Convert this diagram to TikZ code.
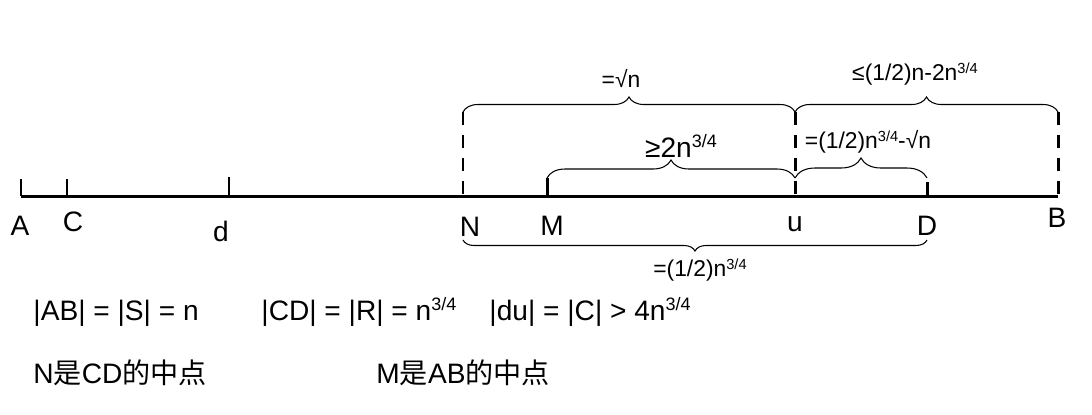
\documentclass[tikz,border=0pt]{standalone}
\usepackage{fontspec}
\setmainfont{Liberation Sans}
\newfontfamily\cjk{Noto Sans CJK SC}
\usetikzlibrary{decorations.pathreplacing}
\newcommand{\pw}[1]{\raisebox{0.33em}{\scalebox{0.64}{#1}}}
\begin{document}
\begin{tikzpicture}[x=0.02cm,y=-0.02cm,line width=1.7pt]
	\tikzstyle{big}=[font=\fontsize{16}{19}\selectfont,inner sep=0pt]
	\tikzstyle{small}=[font=\fontsize{13}{15}\selectfont,inner sep=0pt]
	\tikzstyle{guide}=[dash pattern=on 7.5pt off 5.5pt]
	\tikzstyle{brc}=[decorate,line width=0.6pt]
	\useasboundingbox (0,0) rectangle (1092,414);
	\coordinate (A) at (21,196);
	\coordinate (C) at (67,196);
	\coordinate (d) at (229,196);
	\coordinate (N) at (463,196);
	\coordinate (M) at (547,196);
	\coordinate (u) at (795,196);
	\coordinate (D) at (927,196);
	\coordinate (B) at (1058,196);
	\coordinate (Ntop) at (463,112);
	\coordinate (utop) at (795,112);
	\coordinate (Btop) at (1058,112);
	\coordinate (Mtop) at (547,178);
	\coordinate (umid) at (795,178);
	\coordinate (Dtop) at (927,178);
	\coordinate (Nbot) at (463,240);
	\coordinate (Dbot) at (927,240);
	\draw (A) -- (B);
	\draw (A) -- ++(0,-17);
	\draw (C) -- ++(0,-17);
	\draw (d) -- ++(0,-19);
	\draw (M) -- (Mtop);
	\draw (D) -- ++(0,-14);
	\draw[guide] (Ntop) -- (N);
	\draw[guide] (utop) -- (u);
	\draw[guide] (Btop) -- (B);
	\node[big] (lblA) at (20,226) {A};
	\node[big] (lblC) at (73,222) {C};
	\node[big] (lbld) at (221,231) {d};
	\node[big] (lblN) at (470,227) {N};
	\node[big] (lblM) at (552,226) {M};
	\node[big] (lblu) at (795,224) {u};
	\node[big] (lblD) at (927,226) {D};
	\node[big] (lblB) at (1057,218) {B};
	\draw[brc,decoration={brace,amplitude=0.3cm}] (Ntop) -- (utop);
	\draw[brc,decoration={brace,amplitude=0.3cm}] (utop) -- (Btop);
	\draw[brc,decoration={brace,amplitude=0.36cm}] (Mtop) -- (umid);
	\draw[brc,decoration={brace,amplitude=0.4cm}] (umid) -- (Dtop);
	\draw[brc,decoration={brace,amplitude=0.22cm}] (Dbot) -- (Nbot);
	\node[small] (NU) at (621,79) {=√n};
	\node[small] (UB) at (915,74) {≤(1/2)n-2n\pw{3/4}};
	\node[big] (MU) at (681,146) {≥2n\pw{3/4}};
	\node[small] (UD) at (868,142) {=(1/2)n\pw{3/4}-√n};
	\node[small] (ND) at (700,270) {=(1/2)n\pw{3/4}};
	\node[big,anchor=base west] (ab) at (32,320) {|AB| = |S| = n};
	\node[big,anchor=base west] (cd) at (260,320) {|CD| = |R| = n\pw{3/4}};
	\node[big,anchor=base west] (du) at (488,320) {|du| = |C| > 4n\pw{3/4}};
	\node[big,anchor=base west] (midN) at (32,383) {N{\cjk 是}CD{\cjk 的中点}};
	\node[big,anchor=base west] (midM) at (375,383) {M{\cjk 是}AB{\cjk 的中点}};
\end{tikzpicture}
\end{document}
